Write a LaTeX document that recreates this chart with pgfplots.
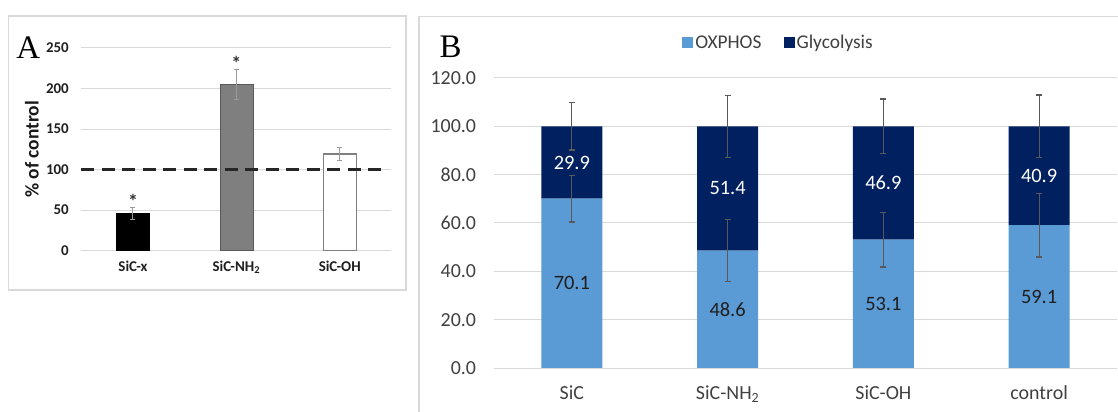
\documentclass[border=0pt]{standalone}
\usepackage{pgfplots}
\pgfplotsset{compat=1.18}
\usepackage{fontspec}
\setmainfont{Carlito}
\newfontfamily\serifA{Liberation Serif}
\definecolor{oxblue}{HTML}{5B9BD5}
\definecolor{navy}{HTML}{002060}
\definecolor{gridgray}{HTML}{D9D9D9}
\definecolor{framegray}{HTML}{D9D9D9}
\definecolor{errA}{HTML}{9A9A9A}
\definecolor{errB}{HTML}{595959}
\definecolor{nhgray}{HTML}{7F7F7F}
\definecolor{tickcol}{HTML}{404040}
\definecolor{dashcol}{HTML}{262626}
\begin{document}
\begin{tikzpicture}
\useasboundingbox (0,0) rectangle (1118bp,412bp);
% frames
\draw[framegray, line width=1.2bp] (8.5bp,122bp) rectangle (406bp,396bp);
\draw[framegray, line width=1.2bp] (419bp,-2bp) -- (419bp,395.5bp) -- (1120bp,395.5bp);
% ---------- Panel A ----------
\begin{axis}[
  at={(81.3bp,161.4bp)}, anchor=south west,
  scale only axis, width=310.1bp, height=202.7bp,
  xmin=-0.5, xmax=2.5, ymin=0, ymax=250,
  ytick={0,50,100,150,200,250},
  xtick={0,1,2},
  xticklabels={SiC-x, SiC-NH\textsubscript{2}, SiC-OH},
  axis line style={draw=none}, major tick length=0pt,
  ymajorgrids, grid style={draw=gridgray, line width=0.8bp},
  /pgf/number format/assume math mode=true,
  yticklabel style={font=\bfseries\fontsize{15}{18}\selectfont, text=black!88, xshift=-9bp},
  xticklabel style={font=\bfseries\fontsize{15}{18}\selectfont, text=black!88, yshift=-7bp},
  ylabel={\% of control},
  ylabel style={at={(rel axis cs:-0.159,0.5)}, anchor=center, font=\bfseries\fontsize{19.5}{22}\selectfont, text=black!90},
  clip=false,
]
\addplot[ybar, bar width=33bp, bar shift=0pt, fill=black, draw=black,
  error bars/.cd, y dir=both, y explicit,
  error bar style={draw=errA, line width=1bp},
  error mark options={rotate=90, draw=errA, line width=1bp, mark size=2.5bp}]
  coordinates {(0,45.9) +- (0,7.1)};
\addplot[ybar, bar width=33bp, bar shift=0pt, fill=nhgray, draw=black!65,
  error bars/.cd, y dir=both, y explicit,
  error bar style={draw=errA, line width=1bp},
  error mark options={rotate=90, draw=errA, line width=1bp, mark size=2.5bp}]
  coordinates {(1,205.2) +- (0,18.4)};
\addplot[ybar, bar width=33bp, bar shift=0pt, fill=white, draw=nhgray, line width=1.2bp,
  error bars/.cd, y dir=both, y explicit,
  error bar style={draw=errA, line width=1bp},
  error mark options={rotate=90, draw=errA, line width=1bp, mark size=2.5bp}]
  coordinates {(2,119.1) +- (0,7.9)};
\addplot[draw=dashcol, line width=2.2bp, dash pattern=on 13bp off 7.5bp]
  coordinates {(-0.5,100) (2.473,100)};
\addplot[draw=none, mark=none, nodes near coords={*},
  every node near coord/.append style={anchor=center, font=\bfseries\fontsize{20}{22}\selectfont, text=black!80}]
  coordinates {(0,60.3) (1,231.2)};
\end{axis}
\node[font=\serifA\fontsize{33}{36}\selectfont] at (28.3bp,364.8bp) {A};
% ---------- Panel B ----------
\begin{axis}[
  at={(494bp,44bp)}, anchor=south west,
  scale only axis, width=623bp, height=290bp,
  xmin=-0.5, xmax=3.5, ymin=0, ymax=120,
  ybar stacked, bar width=61bp,
  ytick={0,20,40,60,80,100,120},
  xtick={0,1,2,3},
  xticklabels={SiC, SiC-NH\textsubscript{2}, SiC-OH, control},
  axis line style={draw=none}, major tick length=0pt,
  ymajorgrids, grid style={draw=gridgray, line width=1bp},
  /pgf/number format/.cd, fixed, fixed zerofill, precision=1, assume math mode=true,
  /pgfplots/.cd,
  yticklabel style={font=\fontsize{20}{24}\selectfont, text=tickcol, xshift=-14.5bp},
  xticklabel style={font=\fontsize{20}{24}\selectfont, text=tickcol, yshift=-14bp},
  legend style={at={(0.4567,1.1224)}, anchor=center, draw=none, fill=none,
    legend columns=2, font=\fontsize{19.5}{22}\selectfont, text=tickcol,
    /tikz/every even column/.append style={column sep=20bp}},
  legend image code/.code={\fill[#1] (0bp,-5.5bp) rectangle (11bp,5.5bp);},
]
\addplot[fill=oxblue, draw=none] coordinates {(0,70.1) (1,48.6) (2,53.1) (3,59.1)};
\addplot[fill=navy, draw=none] coordinates {(0,29.9) (1,51.4) (2,46.9) (3,40.9)};
\legend{OXPHOS, Glycolysis}
\end{axis}
\begin{axis}[
  at={(494bp,44bp)}, anchor=south west,
  scale only axis, width=623bp, height=290bp,
  xmin=-0.5, xmax=3.5, ymin=0, ymax=120,
  hide axis, clip=false,
]
\addplot[draw=none, mark=none,
  error bars/.cd, y dir=both, y explicit,
  error bar style={draw=errB, line width=1.2bp},
  error mark options={rotate=90, draw=errB, line width=1.2bp, mark size=3bp}]
  coordinates {(0,70.1) +- (0,9.7) (0,100) +- (0,9.8)
               (1,48.6) +- (0,12.9) (1,100) +- (0,12.8)
               (2,53.1) +- (0,11.3) (2,100) +- (0,11.3)
               (3,59.1) +- (0,13.2) (3,100) +- (0,13.0)};
\addplot[draw=none, mark=none, nodes near coords, point meta=explicit symbolic,
  every node near coord/.append style={anchor=center, font=\fontsize{20.5}{24}\selectfont, text=black!88}]
  coordinates {(0,35.05)[70.1] (1,24.3)[48.6] (2,26.55)[53.1] (3,29.55)[59.1]};
\addplot[draw=none, mark=none, nodes near coords, point meta=explicit symbolic,
  every node near coord/.append style={anchor=center, font=\fontsize{20.5}{24}\selectfont, text=white}]
  coordinates {(0,85.05)[29.9] (1,74.3)[51.4] (2,76.55)[46.9] (3,79.55)[40.9]};
\end{axis}
\node[font=\serifA\fontsize{33}{36}\selectfont] at (450.7bp,365bp) {B};
\end{tikzpicture}
\end{document}
